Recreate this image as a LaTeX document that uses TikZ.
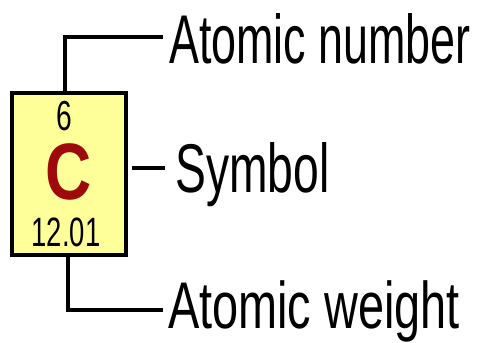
\documentclass[tikz,border=0pt]{standalone}
\usepackage{fontspec}
\usepackage{graphicx}
\setmainfont{Liberation Sans}
\definecolor{boxfill}{HTML}{FFFF99}
\definecolor{symred}{HTML}{9E0A0A}
\begin{document}
\begin{tikzpicture}[x=1pt,y=-1pt,
  conn/.style={line width=3.6pt},
  lbl/.style={anchor=base west,inner sep=0pt,font=\fontsize{69}{69}\selectfont},
  inbox/.style={inner sep=0pt,anchor=base}]
\useasboundingbox (0,0) rectangle (488,343);
\node[draw,line width=4pt,fill=boxfill,minimum width=114pt,minimum height=162pt,inner sep=0pt] (box) at (69,174) {};
\node[inbox,font=\fontsize{42}{42}\selectfont] (num) at (64,130.5) {\scalebox{0.67}[1]{6}};
\node[inbox,font=\bfseries\fontsize{80}{80}\selectfont,text=symred] (sym) at (69,199) {\scalebox{0.8}[1]{C}};
\node[inbox,font=\fontsize{41}{41}\selectfont] (wt) at (66,246) {\scalebox{0.67}[1]{12.01}};
\node[lbl] (lblA) at (169,63) {\scalebox{0.65}[1]{Atomic number}};
\node[lbl] (lblS) at (175,192) {\scalebox{0.67}[1]{Symbol}};
\node[lbl,font=\fontsize{66}{66}\selectfont] (lblW) at (168,328) {\scalebox{0.71}[1]{Atomic weight}};
\draw[conn] ([xshift=-4pt]box.north) |- ([xshift=-6pt,yshift=26pt]lblA.base west);
\draw[conn] ([xshift=4pt,yshift=24pt]box.east |- lblS.base west) -- ([xshift=-10pt,yshift=24pt]lblS.base west);
\draw[conn] ([xshift=-1pt]box.south) |- ([xshift=-5pt,yshift=18pt]lblW.base west);
\end{tikzpicture}
\end{document}
